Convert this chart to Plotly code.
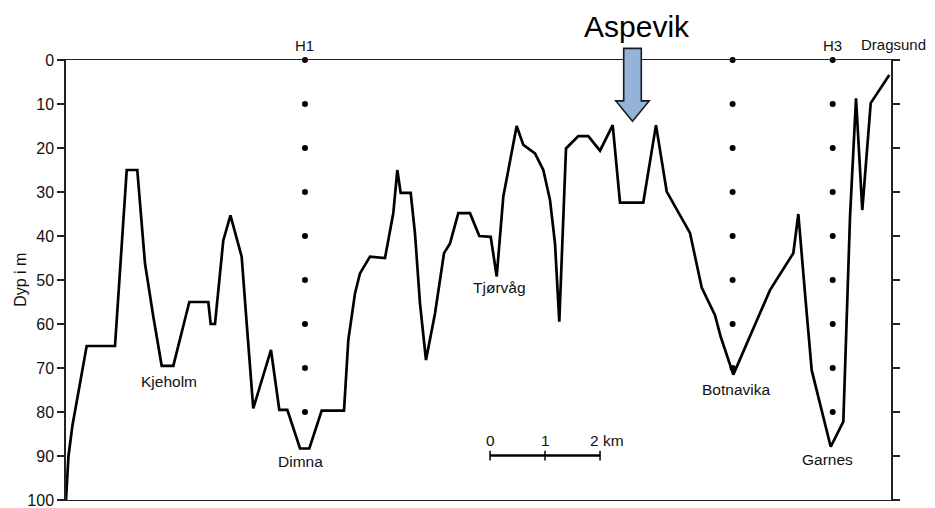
import plotly.graph_objects as go

# ---------------- data ----------------
# bathymetric profile: distance along section (km) and depth (m)
profile_km = [0.000, 0.045, 0.118, 0.376, 0.891, 1.104, 1.296, 1.436, 1.587, 1.740,
              1.951, 2.242, 2.587, 2.631, 2.709, 2.860, 2.990, 3.194, 3.285, 3.405,
              3.727, 3.878, 4.024, 4.255, 4.424, 4.649, 5.055, 5.133, 5.255, 5.345,
              5.527, 5.800, 5.951, 6.024, 6.085, 6.267, 6.345, 6.436, 6.545, 6.709,
              6.873, 6.982, 7.133, 7.345, 7.515, 7.722, 7.831, 7.951, 8.194, 8.315,
              8.527, 8.678, 8.800, 8.891, 8.969, 9.091, 9.315, 9.496, 9.709, 9.940,
              10.073, 10.496, 10.727, 10.922, 11.345, 11.558, 11.800, 11.904, 12.133, 12.800,
              13.224, 13.315, 13.436, 13.558, 13.904, 14.133, 14.255, 14.364, 14.478, 14.631,
              14.969]
profile_depth = [100, 90, 83, 65, 65, 25, 25, 46.2, 58.3, 69.5,
                 69.5, 55, 55, 60, 60, 41, 35.3, 44.7, 59.8, 79.2,
                 65.9, 79.5, 79.5, 88.3, 88.3, 79.7, 79.7, 63.6, 53, 48.5,
                 44.7, 45, 34.8, 25, 30.2, 30.2, 39.4, 55.3, 68.2, 57.6,
                 43.9, 41.7, 34.8, 34.8, 40, 40.2, 49.2, 31, 15, 19.3,
                 21.2, 25, 31.8, 41.7, 59.5, 20.1, 17.3, 17.3, 20.6, 14.8,
                 32.4, 32.4, 14.8, 29.9, 39.3, 51.7, 58, 62.9, 71.5, 52.3,
                 43.9, 35, 53, 70.5, 87.9, 82.2, 35.6, 8.7, 34.1, 9.8,
                 3.4]

# hydrographic stations (dotted verticals)
station_names = ["H1", "H2", "H3"]
station_km = [4.345, 12.12, 13.94]
station_depths = [
    [0, 10, 20, 30, 40, 50, 60, 70, 80],
    [0, 10, 20, 30, 40, 50, 60, 70],
    [0, 10, 20, 30, 40, 50, 60, 70, 80],
]

# place names along the profile
place_names = ["Kjeholm", "Dimna", "Tjørvåg", "Botnavika", "Garnes"]
place_km = [1.873, 4.255, 7.873, 12.19, 13.85]
place_depth = [73.1, 91.3, 51.8, 74.8, 90.9]

# end-of-section label
end_name = "Dragsund"
end_km = 15.05

# y axis ticks
depth_ticks = [0, 10, 20, 30, 40, 50, 60, 70, 80, 90, 100]

# ranges
X_RANGE = [0, 15]
Y_RANGE = [100, 0]

# scale bar (km)
scale_start_km = 7.71
scale_len_km = 2
scale_depth = 89.9
scale_labels = ["0", "1", "2 km"]

# Aspevik marker
aspevik_km = 10.30
aspevik_tip_depth = 13.9

FONT = "Liberation Sans, Arial, Helvetica, sans-serif"


def px_x(km):
    return (km - X_RANGE[0]) / (X_RANGE[1] - X_RANGE[0])


def px_y(d):
    return (d - Y_RANGE[0]) / (Y_RANGE[1] - Y_RANGE[0])


fig = go.Figure()

# station dots
for name, xk, ds in zip(station_names, station_km, station_depths):
    fig.add_trace(go.Scatter(
        x=[xk] * len(ds), y=ds, mode="markers",
        marker=dict(size=6, color="black"),
        cliponaxis=False, showlegend=False, hoverinfo="skip"))

# profile
fig.add_trace(go.Scatter(
    x=profile_km, y=profile_depth, mode="lines",
    line=dict(color="black", width=2.7),
    showlegend=False, hoverinfo="skip"))

# scale bar
sb_x = [scale_start_km + i for i in range(scale_len_km + 1)]
fig.add_trace(go.Scatter(
    x=[sb_x[0], sb_x[-1]], y=[scale_depth, scale_depth], mode="lines",
    line=dict(color="black", width=2.5), showlegend=False, hoverinfo="skip"))
fig.add_trace(go.Scatter(
    x=sb_x, y=[scale_depth] * len(sb_x), mode="markers",
    marker=dict(symbol="line-ns", size=7, line=dict(color="black", width=1.5)),
    showlegend=False, hoverinfo="skip"))

annotations = []
for name, xk, d in zip(place_names, place_km, place_depth):
    annotations.append(dict(x=xk, y=d, xref="x", yref="y", text=name, showarrow=False,
                            font=dict(family=FONT, size=15.5, color="#111"),
                            xanchor="center", yanchor="middle"))

# station labels above the frame (H2 label absent in the original)
for name, xk in zip(station_names, station_km):
    if name == "H2":
        continue
    annotations.append(dict(x=px_x(xk), y=px_y(-3.4), xref="paper", yref="paper", text=name,
                            showarrow=False, font=dict(family=FONT, size=15, color="#111"),
                            xanchor="center", yanchor="middle"))
annotations.append(dict(x=px_x(end_km), y=px_y(-3.6), xref="paper", yref="paper",
                        text=end_name, showarrow=False,
                        font=dict(family=FONT, size=15, color="#111"),
                        xanchor="center", yanchor="middle"))

# scale bar labels
for i, lab in enumerate(scale_labels):
    xa = sb_x[i]
    anchor = "center"
    if lab.endswith("km"):
        xa = sb_x[i] - 0.22
        anchor = "left"
    annotations.append(dict(x=xa, y=scale_depth - 3.4, xref="x", yref="y", text=lab,
                            showarrow=False, xanchor=anchor, yanchor="middle",
                            font=dict(family=FONT, size=15.5, color="#111")))

# y axis title
annotations.append(dict(x=-0.056, y=0.5, xref="paper", yref="paper", text="Dyp i m",
                        textangle=-90, showarrow=False, xanchor="center", yanchor="middle",
                        font=dict(family=FONT, size=16, color="#111")))

# Aspevik label
annotations.append(dict(x=px_x(aspevik_km + 0.08), y=px_y(-7.6), xref="paper", yref="paper",
                        text="Aspevik", showarrow=False, xanchor="center", yanchor="middle",
                        font=dict(family=FONT, size=30, color="black")))

# block arrow for Aspevik (paper coords so it is not clipped)
sw, hw = 0.16, 0.303
shaft_top, shoulder = -2.65, 9.3
pts = [(aspevik_km - sw, shaft_top), (aspevik_km + sw, shaft_top),
       (aspevik_km + sw, shoulder), (aspevik_km + hw, shoulder),
       (aspevik_km, aspevik_tip_depth), (aspevik_km - hw, shoulder),
       (aspevik_km - sw, shoulder)]
path = "M " + " L ".join(f"{px_x(a):.5f},{px_y(b):.5f}" for a, b in pts) + " Z"
shapes = [dict(type="path", xref="paper", yref="paper", path=path,
               fillcolor="#94B3D9", line=dict(color="#1a1a1a", width=1.6), layer="above")]

fig.update_layout(
    width=935, height=508,
    margin=dict(l=66, r=44, t=60, b=8),
    paper_bgcolor="white", plot_bgcolor="white",
    showlegend=False,
    xaxis=dict(range=X_RANGE, showgrid=False, zeroline=False, showticklabels=False,
               ticks="", showline=True, mirror=True, linecolor="#222", linewidth=1.3,
               automargin=False),
    yaxis=dict(range=Y_RANGE, showgrid=False, zeroline=False,
               tickvals=depth_ticks, ticktext=[str(t) for t in depth_ticks],
               ticks="outside", ticklen=7, tickwidth=1.5, tickcolor="#222",
               ticklabeloverflow="allow", automargin=False,
               showline=True, mirror="ticks", linecolor="#222", linewidth=1.5,
               tickfont=dict(family=FONT, size=16, color="#111")),
    annotations=annotations,
    shapes=shapes,
)

fig.write_html("out.html")
